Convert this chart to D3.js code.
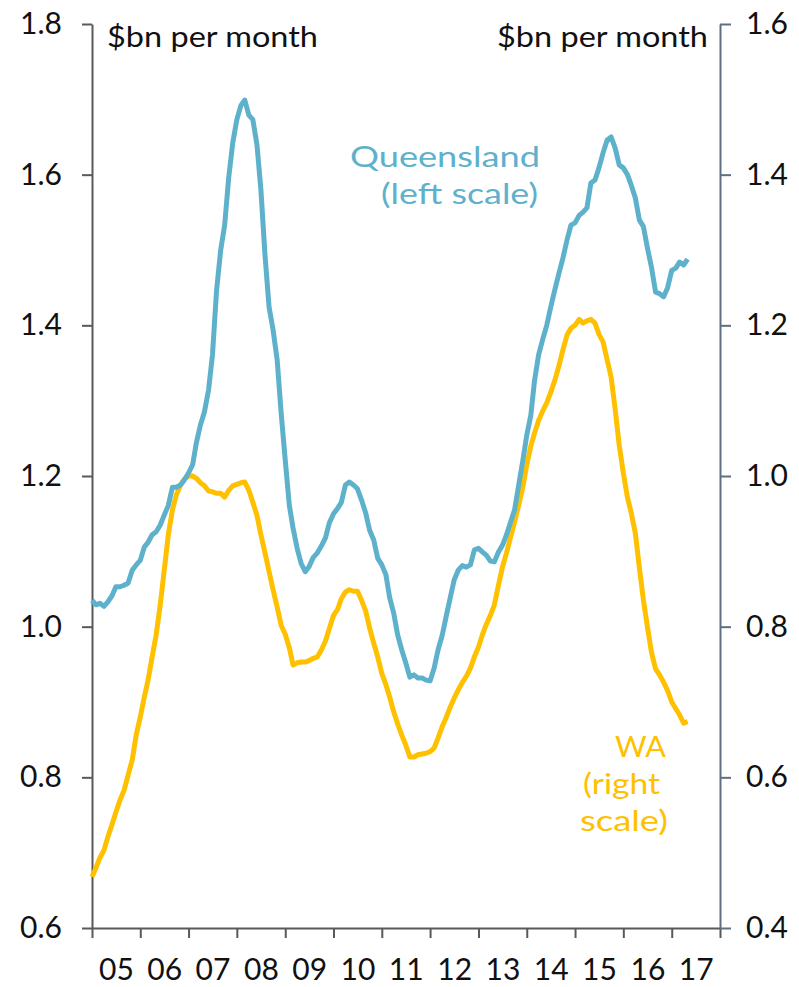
<!DOCTYPE html>
<html>
<head>
<meta charset="utf-8">
<script src="https://cdn.jsdelivr.net/npm/d3@7"></script>
<style>
  body { margin: 0; background: #fff; }
  text { font-family: "Century Gothic", Lato, "Noto Sans", sans-serif; }
</style>
</head>
<body>
<svg id="chart"></svg>
<script>
// monthly values, Jan 2005 onwards
var firstMonth = new Date(2005, 0, 1);
var yearLabels = ['05','06','07','08','09','10','11','12','13','14','15','16','17'];

// Queensland, $bn per month (left scale)
var qld = [
  1.035,1.029,1.031,1.027,1.033,1.041,1.053,1.053,1.055,1.058,1.075,1.082,
  1.088,1.106,1.112,1.122,1.126,1.135,1.148,1.161,1.185,1.185,1.188,1.195,
  1.204,1.215,1.244,1.268,1.285,1.314,1.361,1.447,1.500,1.533,1.597,1.642,
  1.673,1.692,1.699,1.679,1.673,1.640,1.580,1.493,1.424,1.394,1.354,1.284,
  1.221,1.161,1.131,1.104,1.084,1.073,1.080,1.092,1.098,1.107,1.118,1.138,
  1.150,1.157,1.165,1.188,1.192,1.188,1.183,1.168,1.151,1.128,1.115,1.091,
  1.082,1.069,1.039,1.018,0.989,0.969,0.952,0.933,0.936,0.932,0.932,0.929,
  0.928,0.945,0.969,0.988,1.013,1.038,1.062,1.075,1.081,1.079,1.082,1.102,
  1.104,1.099,1.095,1.087,1.086,1.099,1.108,1.122,1.139,1.155,1.188,1.219,
  1.254,1.281,1.327,1.361,1.381,1.400,1.424,1.447,1.469,1.489,1.513,1.533,
  1.536,1.546,1.550,1.556,1.589,1.593,1.609,1.629,1.646,1.650,1.635,1.613,
  1.609,1.600,1.586,1.569,1.540,1.531,1.503,1.477,1.444,1.442,1.438,1.450,
  1.473,1.476,1.484,1.480,1.488
];

// WA, $bn per month (right scale)
var wa = [
  0.468,0.480,0.493,0.503,0.521,0.537,0.554,0.570,0.583,0.603,0.623,0.656,
  0.680,0.707,0.729,0.760,0.789,0.829,0.875,0.922,0.955,0.975,0.988,0.996,
  1.000,1.000,0.997,0.991,0.987,0.980,0.979,0.977,0.977,0.972,0.981,0.987,
  0.989,0.991,0.992,0.981,0.965,0.948,0.922,0.898,0.873,0.849,0.826,0.802,
  0.790,0.772,0.749,0.752,0.753,0.753,0.755,0.758,0.760,0.769,0.781,0.798,
  0.815,0.823,0.837,0.846,0.849,0.847,0.847,0.835,0.821,0.798,0.778,0.760,
  0.738,0.723,0.707,0.687,0.671,0.656,0.643,0.627,0.627,0.630,0.631,0.632,
  0.634,0.639,0.652,0.667,0.679,0.693,0.705,0.716,0.726,0.734,0.745,0.760,
  0.773,0.790,0.803,0.815,0.829,0.855,0.879,0.898,0.919,0.939,0.961,0.984,
  1.015,1.040,1.057,1.074,1.086,1.097,1.111,1.127,1.146,1.167,1.187,1.196,
  1.200,1.208,1.203,1.206,1.208,1.203,1.188,1.178,1.154,1.131,1.088,1.041,
  1.004,0.972,0.951,0.924,0.879,0.835,0.800,0.766,0.744,0.736,0.726,0.715,
  0.700,0.691,0.683,0.672,0.674
];

var leftTicks = [0.6, 0.8, 1.0, 1.2, 1.4, 1.6, 1.8];
var rightTicks = [0.4, 0.6, 0.8, 1.0, 1.2, 1.4, 1.6];

var width = 799;
var height = 987;
var margin = {top: 24, right: 79, bottom: 59, left: 92};
var inner_width = width - margin.left - margin.right;
var inner_height = height - margin.top - margin.bottom;

var qldColor = '#5eb1cb';
var waColor = '#ffc000';

var svg = d3.select('#chart')
    .attr('width', width)
    .attr('height', height);

var chart = svg.append('g')
    .attr('transform', `translate(${margin.left}, ${margin.top})`);

var xscale = d3.scaleTime()
    .domain([new Date(2005, 0, 1), new Date(2018, 0, 1)])
    .range([0, inner_width]);

var yleft = d3.scaleLinear().domain([0.6, 1.8]).range([inner_height, 0]);
var yright = d3.scaleLinear().domain([0.4, 1.6]).range([inner_height, 0]);

var monthDate = i => d3.timeMonth.offset(firstMonth, i);

// axes
var xaxis = d3.axisBottom(xscale)
    .tickValues(d3.range(2005, 2019).map(y => new Date(y, 0, 1)))
    .tickFormat('')
    .tickSize(10)
    .tickSizeOuter(0);

var xlabels = d3.axisBottom(xscale)
    .tickValues(yearLabels.map((d, i) => new Date(2005 + i, 6, 1)))
    .tickFormat((d, i) => yearLabels[i])
    .tickSize(0)
    .tickPadding(31);

var yaxisL = d3.axisLeft(yleft)
    .tickValues(leftTicks)
    .tickFormat(d3.format('.1f'))
    .tickSize(10)
    .tickSizeOuter(0)
    .tickPadding(20);

var yaxisR = d3.axisRight(yright)
    .tickValues(rightTicks)
    .tickFormat(d3.format('.1f'))
    .tickSize(11)
    .tickSizeOuter(0)
    .tickPadding(15);

var gx = chart.append('g').attr('transform', `translate(0, ${inner_height})`).call(xaxis);
var gxl = chart.append('g').attr('transform', `translate(0, ${inner_height})`).call(xlabels);
var gl = chart.append('g').call(yaxisL);
var gr = chart.append('g').attr('transform', `translate(${inner_width}, 0)`).call(yaxisR);

[gx, gxl, gl, gr].forEach(g => {
  g.selectAll('text').attr('font-size', 30).attr('fill', '#111')
    .style('font-family', '"Century Gothic", Lato, "Noto Sans", sans-serif');
  g.selectAll('path, line').attr('stroke', '#595959').attr('stroke-width', 2);
});
gr.selectAll('path, line').attr('stroke', '#5f6f80');
gxl.select('.domain').remove();

// lines
var lineL = d3.line().x((d, i) => xscale(monthDate(i))).y(d => yleft(d));
var lineR = d3.line().x((d, i) => xscale(monthDate(i))).y(d => yright(d));

chart.append('path').datum(wa)
    .attr('d', lineR)
    .attr('fill', 'none')
    .attr('stroke', waColor)
    .attr('stroke-width', 5)
    .attr('stroke-linejoin', 'round');

chart.append('path').datum(qld)
    .attr('d', lineL)
    .attr('fill', 'none')
    .attr('stroke', qldColor)
    .attr('stroke-width', 5)
    .attr('stroke-linejoin', 'round');

// text helper: anchored label stretched to the reference width
function label(x, y, anchor, len, color, txt) {
  svg.append('text')
      .attr('x', x).attr('y', y)
      .attr('text-anchor', anchor)
      .attr('font-size', 28)
      .attr('fill', color)
      .attr('textLength', len)
      .attr('lengthAdjust', 'spacingAndGlyphs')
      .text(txt);
}

// units
label(107, 47, 'start', 211, '#111', '$bn per month');
label(708, 47, 'end', 211, '#111', '$bn per month');

// series labels
label(540, 167, 'end', 190, qldColor, 'Queensland');
label(538, 204, 'end', 157, qldColor, '(left scale)');

label(666, 757, 'end', 51, waColor, 'WA');
label(660, 794, 'end', 77, waColor, '(right');
label(668, 831, 'end', 88, waColor, 'scale)');
</script>
</body>
</html>
